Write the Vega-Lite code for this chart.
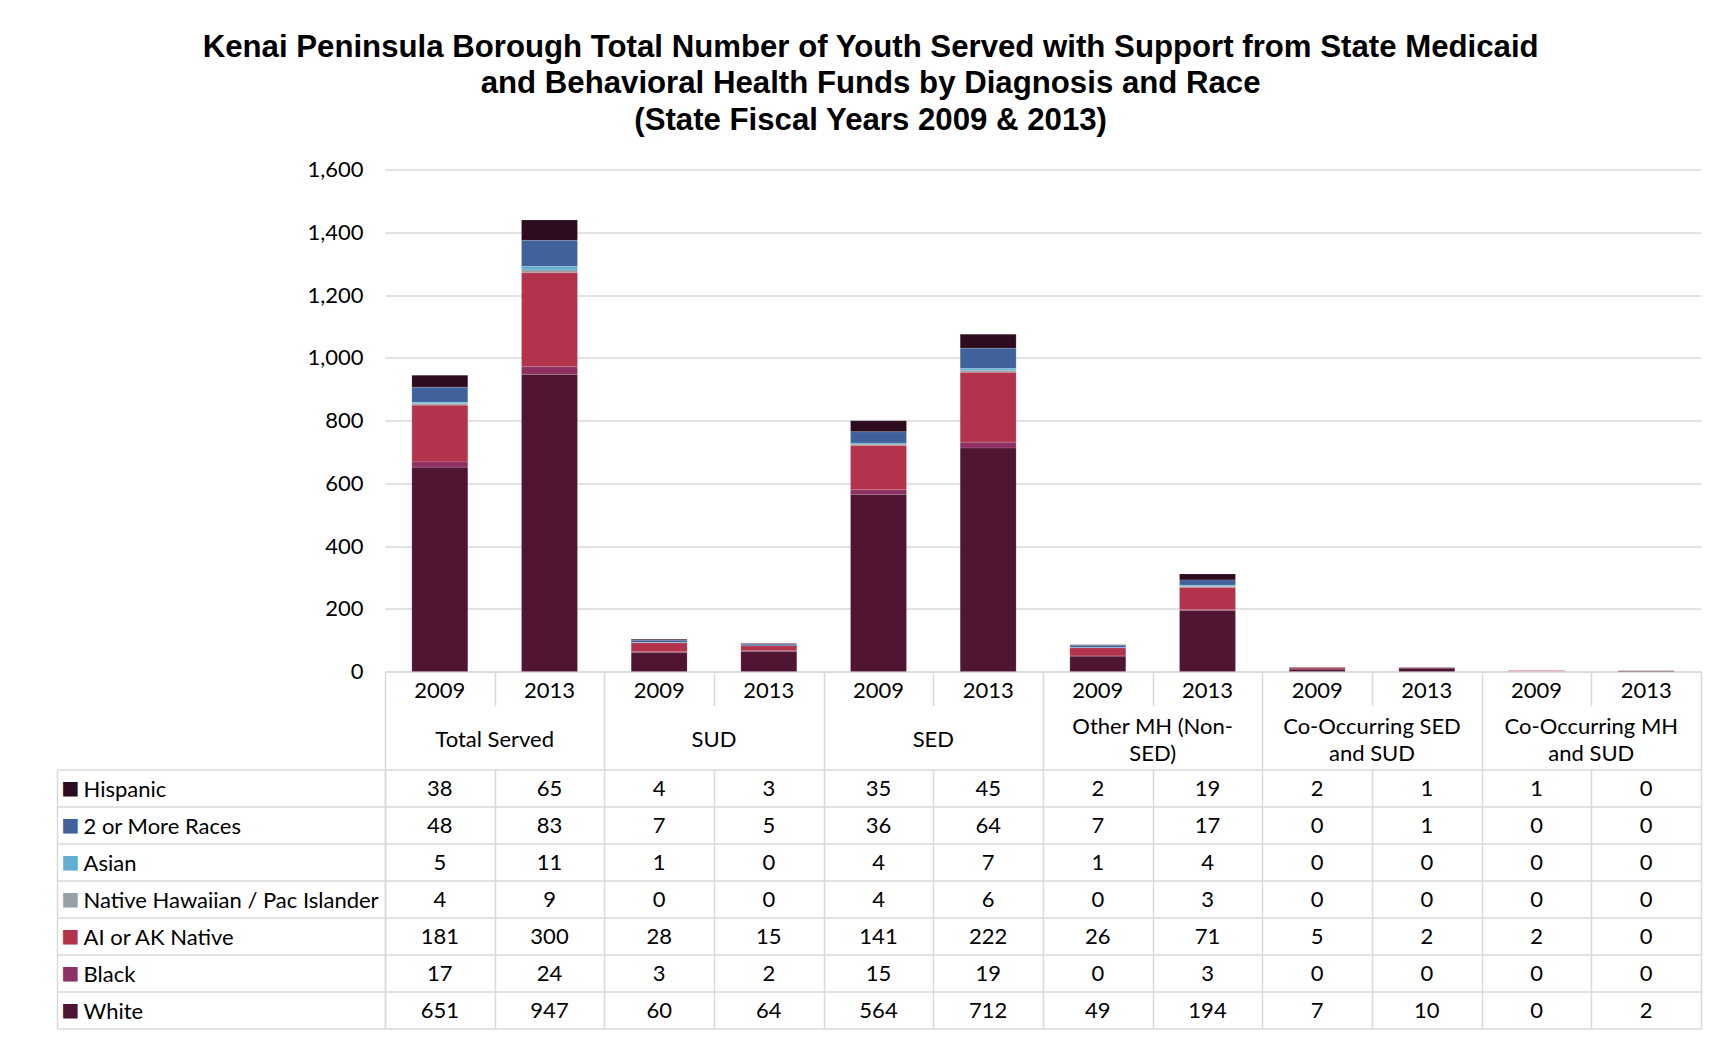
{
  "$schema": "https://vega.github.io/schema/vega-lite/v6.json",
  "background": "#ffffff",
  "padding": {"left": 56, "top": 31.5, "right": 25, "bottom": 2},
  "bounds": "flush",
  "spacing": 0,
  "title": {
    "text": ["Kenai Peninsula Borough Total Number of Youth Served with Support from State Medicaid", "and Behavioral Health Funds by Diagnosis and Race", "(State Fiscal Years 2009 & 2013)"],
    "font": "Liberation Sans", "fontSize": 31.2, "fontWeight": "bold", "lineHeight": 36.6, "anchor": "middle", "offset": 22.2, "dx": -8, "color": "#000000"
  },
  "config": {
    "font": "Lato",
    "view": {"stroke": null},
    "text": {"font": "Lato", "fontSize": 22, "color": "#000000"}
  },
  "datasets": {
    "races": [
      {"r": "White", "o": 1}, {"r": "Black", "o": 2}, {"r": "AI or AK Native", "o": 3},
      {"r": "Native Hawaiian / Pac Islander", "o": 4}, {"r": "Asian", "o": 5},
      {"r": "2 or More Races", "o": 6}, {"r": "Hispanic", "o": 7}
    ],
    "main": [
      {"c": "TS-2009", "r": "Hispanic", "n": 38}, {"c": "TS-2009", "r": "2 or More Races", "n": 48}, {"c": "TS-2009", "r": "Asian", "n": 5}, {"c": "TS-2009", "r": "Native Hawaiian / Pac Islander", "n": 4}, {"c": "TS-2009", "r": "AI or AK Native", "n": 181}, {"c": "TS-2009", "r": "Black", "n": 17}, {"c": "TS-2009", "r": "White", "n": 651},
      {"c": "TS-2013", "r": "Hispanic", "n": 65}, {"c": "TS-2013", "r": "2 or More Races", "n": 83}, {"c": "TS-2013", "r": "Asian", "n": 11}, {"c": "TS-2013", "r": "Native Hawaiian / Pac Islander", "n": 9}, {"c": "TS-2013", "r": "AI or AK Native", "n": 300}, {"c": "TS-2013", "r": "Black", "n": 24}, {"c": "TS-2013", "r": "White", "n": 947},
      {"c": "SUD-2009", "r": "Hispanic", "n": 4}, {"c": "SUD-2009", "r": "2 or More Races", "n": 7}, {"c": "SUD-2009", "r": "Asian", "n": 1}, {"c": "SUD-2009", "r": "Native Hawaiian / Pac Islander", "n": 0}, {"c": "SUD-2009", "r": "AI or AK Native", "n": 28}, {"c": "SUD-2009", "r": "Black", "n": 3}, {"c": "SUD-2009", "r": "White", "n": 60},
      {"c": "SUD-2013", "r": "Hispanic", "n": 3}, {"c": "SUD-2013", "r": "2 or More Races", "n": 5}, {"c": "SUD-2013", "r": "Asian", "n": 0}, {"c": "SUD-2013", "r": "Native Hawaiian / Pac Islander", "n": 0}, {"c": "SUD-2013", "r": "AI or AK Native", "n": 15}, {"c": "SUD-2013", "r": "Black", "n": 2}, {"c": "SUD-2013", "r": "White", "n": 64},
      {"c": "SED-2009", "r": "Hispanic", "n": 35}, {"c": "SED-2009", "r": "2 or More Races", "n": 36}, {"c": "SED-2009", "r": "Asian", "n": 4}, {"c": "SED-2009", "r": "Native Hawaiian / Pac Islander", "n": 4}, {"c": "SED-2009", "r": "AI or AK Native", "n": 141}, {"c": "SED-2009", "r": "Black", "n": 15}, {"c": "SED-2009", "r": "White", "n": 564},
      {"c": "SED-2013", "r": "Hispanic", "n": 45}, {"c": "SED-2013", "r": "2 or More Races", "n": 64}, {"c": "SED-2013", "r": "Asian", "n": 7}, {"c": "SED-2013", "r": "Native Hawaiian / Pac Islander", "n": 6}, {"c": "SED-2013", "r": "AI or AK Native", "n": 222}, {"c": "SED-2013", "r": "Black", "n": 19}, {"c": "SED-2013", "r": "White", "n": 712},
      {"c": "OMH-2009", "r": "Hispanic", "n": 2}, {"c": "OMH-2009", "r": "2 or More Races", "n": 7}, {"c": "OMH-2009", "r": "Asian", "n": 1}, {"c": "OMH-2009", "r": "Native Hawaiian / Pac Islander", "n": 0}, {"c": "OMH-2009", "r": "AI or AK Native", "n": 26}, {"c": "OMH-2009", "r": "Black", "n": 0}, {"c": "OMH-2009", "r": "White", "n": 49},
      {"c": "OMH-2013", "r": "Hispanic", "n": 19}, {"c": "OMH-2013", "r": "2 or More Races", "n": 17}, {"c": "OMH-2013", "r": "Asian", "n": 4}, {"c": "OMH-2013", "r": "Native Hawaiian / Pac Islander", "n": 3}, {"c": "OMH-2013", "r": "AI or AK Native", "n": 71}, {"c": "OMH-2013", "r": "Black", "n": 3}, {"c": "OMH-2013", "r": "White", "n": 194},
      {"c": "COS-2009", "r": "Hispanic", "n": 2}, {"c": "COS-2009", "r": "2 or More Races", "n": 0}, {"c": "COS-2009", "r": "Asian", "n": 0}, {"c": "COS-2009", "r": "Native Hawaiian / Pac Islander", "n": 0}, {"c": "COS-2009", "r": "AI or AK Native", "n": 5}, {"c": "COS-2009", "r": "Black", "n": 0}, {"c": "COS-2009", "r": "White", "n": 7},
      {"c": "COS-2013", "r": "Hispanic", "n": 1}, {"c": "COS-2013", "r": "2 or More Races", "n": 1}, {"c": "COS-2013", "r": "Asian", "n": 0}, {"c": "COS-2013", "r": "Native Hawaiian / Pac Islander", "n": 0}, {"c": "COS-2013", "r": "AI or AK Native", "n": 2}, {"c": "COS-2013", "r": "Black", "n": 0}, {"c": "COS-2013", "r": "White", "n": 10},
      {"c": "COM-2009", "r": "Hispanic", "n": 1}, {"c": "COM-2009", "r": "2 or More Races", "n": 0}, {"c": "COM-2009", "r": "Asian", "n": 0}, {"c": "COM-2009", "r": "Native Hawaiian / Pac Islander", "n": 0}, {"c": "COM-2009", "r": "AI or AK Native", "n": 2}, {"c": "COM-2009", "r": "Black", "n": 0}, {"c": "COM-2009", "r": "White", "n": 0},
      {"c": "COM-2013", "r": "Hispanic", "n": 0}, {"c": "COM-2013", "r": "2 or More Races", "n": 0}, {"c": "COM-2013", "r": "Asian", "n": 0}, {"c": "COM-2013", "r": "Native Hawaiian / Pac Islander", "n": 0}, {"c": "COM-2013", "r": "AI or AK Native", "n": 0}, {"c": "COM-2013", "r": "Black", "n": 0}, {"c": "COM-2013", "r": "White", "n": 2}
    ],
    "cols": [
      {"c": "TS-2009", "y": "2009"}, {"c": "TS-2013", "y": "2013"},
      {"c": "SUD-2009", "y": "2009"}, {"c": "SUD-2013", "y": "2013"},
      {"c": "SED-2009", "y": "2009"}, {"c": "SED-2013", "y": "2013"},
      {"c": "OMH-2009", "y": "2009"}, {"c": "OMH-2013", "y": "2013"},
      {"c": "COS-2009", "y": "2009"}, {"c": "COS-2013", "y": "2013"},
      {"c": "COM-2009", "y": "2009"}, {"c": "COM-2013", "y": "2013"}
    ],
    "cats": [
      {"k": "TS", "label": "Total Served"},
      {"k": "SUD", "label": "SUD"},
      {"k": "SED", "label": "SED"},
      {"k": "OMH", "label": "Other MH (Non-\nSED)"},
      {"k": "COS", "label": "Co-Occurring SED\nand SUD"},
      {"k": "COM", "label": "Co-Occurring MH\nand SUD"}
    ]
  },
  "vconcat": [
    {
      "width": 1316, "height": 502,
      "data": {"name": "main"},
      "transform": [{"lookup": "r", "from": {"data": {"name": "races"}, "key": "r", "fields": ["o"]}}],
      "mark": {"type": "bar", "stroke": "#ffffff", "strokeWidth": 0.5, "strokeOpacity": 0.25},
      "encoding": {
        "x": {"field": "c", "type": "nominal",
          "scale": {"domain": ["TS-2009","TS-2013","SUD-2009","SUD-2013","SED-2009","SED-2013","OMH-2009","OMH-2013","COS-2009","COS-2013","COM-2009","COM-2013"], "paddingInner": 0.49, "paddingOuter": 0.245},
          "axis": {"title": null, "labels": false, "ticks": false, "grid": false, "domain": true, "domainColor": "#d9d9d9", "domainWidth": 1.5}},
        "y": {"field": "n", "type": "quantitative", "stack": "zero",
          "scale": {"domain": [0, 1600], "nice": false},
          "axis": {"title": null, "values": [0,200,400,600,800,1000,1200,1400,1600], "format": ",d", "domain": false, "ticks": false, "grid": true, "gridColor": "#d9d9d9", "gridWidth": 1.5, "labelFont": "Lato", "labelFontSize": 22, "labelColor": "#000000", "labelPadding": 22}},
        "color": {"field": "r", "type": "nominal",
          "sort": ["White","Black","AI or AK Native","Native Hawaiian / Pac Islander","Asian","2 or More Races","Hispanic"],
          "scale": {"range": ["#4f1533","#8e3061","#b2334b","#9a9fa6","#62b0d1","#41619d","#2e0c1f"]},
          "legend": null},
        "order": {"field": "o", "type": "quantitative", "sort": "ascending"}
      }
    },
    {
      "width": 1316, "height": 34,
      "data": {"name": "cols"},
      "mark": {"type": "text", "fontSize": 22, "baseline": "middle", "dy": 2},
      "encoding": {
        "x": {"field": "c", "type": "nominal",
          "scale": {"domain": ["TS-2009","TS-2013","SUD-2009","SUD-2013","SED-2009","SED-2013","OMH-2009","OMH-2013","COS-2009","COS-2013","COM-2009","COM-2013"], "padding": 0},
          "axis": {"title": null, "labels": false, "ticks": false, "domain": false, "grid": true, "tickBand": "extent", "gridColor": "#d9d9d9", "gridWidth": 1.5}},
        "text": {"field": "y"}
      }
    },
    {
      "width": 1316, "height": 64,
      "data": {"name": "cats"},
      "encoding": {
        "x": {"field": "k", "type": "nominal",
          "scale": {"domain": ["TS","SUD","SED","OMH","COS","COM"], "padding": 0},
          "axis": {"title": null, "labels": false, "ticks": false, "domain": false, "grid": true, "tickBand": "extent", "gridColor": "#d9d9d9", "gridWidth": 1.5}},
        "text": {"field": "label"}
      },
      "layer": [
        {
          "transform": [{"filter": "indexof(datum.label, '\\n') < 0"}],
          "mark": {"type": "text", "fontSize": 22, "baseline": "middle", "dy": 2}
        },
        {
          "transform": [{"filter": "indexof(datum.label, '\\n') >= 0"}],
          "mark": {"type": "text", "fontSize": 22, "baseline": "middle", "lineBreak": "\n", "lineHeight": 27.5, "dy": -11}
        }
      ]
    },
    {
      "width": 1316, "height": 259,
      "data": {"name": "main"},
      "resolve": {"axis": {"y": "independent"}},
      "layer": [
        {
          "mark": {"type": "text", "fontSize": 22, "baseline": "middle", "dy": 1},
          "encoding": {
            "x": {"field": "c", "type": "nominal",
              "scale": {"domain": ["TS-2009","TS-2013","SUD-2009","SUD-2013","SED-2009","SED-2013","OMH-2009","OMH-2013","COS-2009","COS-2013","COM-2009","COM-2013"], "padding": 0},
              "axis": {"title": null, "labels": false, "ticks": false, "domain": false, "grid": true, "tickBand": "extent", "gridColor": "#d9d9d9", "gridWidth": 1.5}},
            "y": {"field": "r", "type": "nominal",
              "scale": {"domain": ["Hispanic","2 or More Races","Asian","Native Hawaiian / Pac Islander","AI or AK Native","Black","White"], "padding": 0},
              "axis": {"orient": "left", "title": null, "domain": true, "domainColor": "#d9d9d9", "domainWidth": 1.5, "ticks": true, "tickBand": "extent", "tickSize": 328, "tickColor": "#d9d9d9", "tickWidth": 1.5, "grid": true, "gridColor": "#d9d9d9", "gridWidth": 1.5, "labelAlign": "left", "labelBaseline": "middle", "labelPadding": -26, "labelOffset": 1, "labelFont": "Lato", "labelFontSize": 22, "labelColor": "#000000", "labelLimit": 400}},
            "text": {"field": "n", "type": "quantitative"}
          }
        },
        {
          "mark": {"type": "text", "opacity": 0},
          "encoding": {
            "y": {"field": "r", "type": "nominal",
              "axis": {"orient": "left", "offset": 328, "title": null, "domain": true, "domainColor": "#d9d9d9", "domainWidth": 1.5, "ticks": false, "tickSize": 0, "grid": false, "labelAlign": "left", "labelBaseline": "middle", "labelPadding": -4, "labelFont": "DejaVu Sans", "labelFontSize": 19, "labelExpr": "'■'",
                "labelColor": {"condition": [
                  {"test": "datum.value === 'Hispanic'", "value": "#2e0c1f"},
                  {"test": "datum.value === '2 or More Races'", "value": "#41619d"},
                  {"test": "datum.value === 'Asian'", "value": "#62b0d1"},
                  {"test": "datum.value === 'Native Hawaiian / Pac Islander'", "value": "#9a9fa6"},
                  {"test": "datum.value === 'AI or AK Native'", "value": "#b2334b"},
                  {"test": "datum.value === 'Black'", "value": "#8e3061"}
                ], "value": "#4f1533"}}},
            "text": {"field": "n", "type": "quantitative"}
          }
        }
      ]
    }
  ]
}
